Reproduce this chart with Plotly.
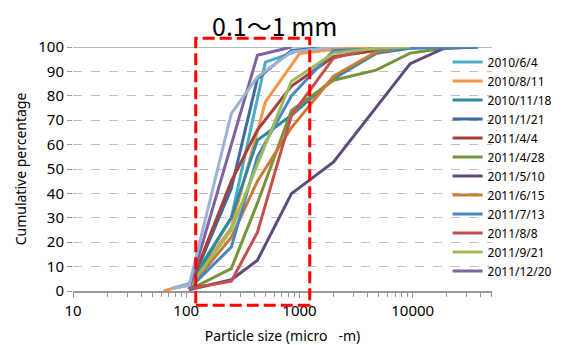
import plotly.graph_objects as go

# ---- data ----
names = ["2010/6/4", "2010/8/11", "2010/11/18", "2011/1/21", "2011/4/4", "2011/4/28",
         "2011/5/10", "2011/6/15", "2011/7/13", "2011/8/8", "2011/9/21", "2011/12/20"]
colors = ["#4BACC6", "#F79646", "#31889F", "#3D6BA3", "#A6403C", "#77933C",
          "#5F4A7B", "#CC7A33", "#4A86C5", "#C4504E", "#9BBB59", "#8064A2"]

x_2010_6_4 = [75, 106, 250, 500, 1000, 2000]
y_2010_6_4 = [1, 3, 30, 93.8, 98.6, 100]
x_2010_8_11 = [63, 75, 106, 250, 500, 1000, 2000, 4750]
y_2010_8_11 = [0, 1, 2.5, 26, 77.5, 97.3, 99, 100]
x_2010_11_18 = [106, 250, 425, 850, 2000, 4750, 9500, 19000]
y_2010_11_18 = [2, 30, 61.8, 72, 87, 97.4, 99.5, 100]
x_2011_1_21 = [106, 250, 425, 850, 2000]
y_2011_1_21 = [1, 42, 87, 98.6, 100]
x_2011_4_4 = [106, 250, 425, 850, 2000, 4750, 9500]
y_2011_4_4 = [1, 45, 66, 84, 96, 98.6, 100]
x_2011_4_28 = [106, 250, 425, 850, 2000, 4750, 9500, 19000, 37500]
y_2011_4_28 = [0.5, 9.2, 36, 74, 86.4, 90.5, 97.5, 99.5, 100]
x_2011_5_10 = [106, 250, 425, 850, 2000, 4750, 9500, 19000, 37500]
y_2011_5_10 = [0.5, 4.6, 12.6, 39.9, 52.9, 75, 93.2, 99.5, 100]
x_2011_6_15 = [106, 250, 425, 850, 2000, 4750, 9500]
y_2011_6_15 = [1, 22, 45, 67, 88, 98, 100]
x_2011_7_13 = [106, 250, 425, 850, 2000, 4750, 9500, 19000, 37500]
y_2011_7_13 = [1, 18, 55, 80, 98.6, 99.3, 99.6, 99.8, 100]
x_2011_8_8 = [106, 250, 425, 850, 2000, 4750]
y_2011_8_8 = [1, 4, 24, 72, 95.5, 100]
x_2011_9_21 = [106, 250, 425, 850, 2000, 4750, 9500]
y_2011_9_21 = [1.5, 25, 52, 86, 97.5, 99.5, 100]
x_2011_12_20 = [106, 250, 425, 850]
y_2011_12_20 = [0.8, 60, 96.6, 100]
# an extra series drawn in the chart but not listed in the legend
x_extra = [75, 106, 250, 425, 850, 2000]
y_extra = [1, 2.3, 72.7, 87.7, 98, 100]
extra_color = "#9DB3D6"

xs = [x_2010_6_4, x_2010_8_11, x_2010_11_18, x_2011_1_21, x_2011_4_4, x_2011_4_28,
      x_2011_5_10, x_2011_6_15, x_2011_7_13, x_2011_8_8, x_2011_9_21, x_2011_12_20]
ys = [y_2010_6_4, y_2010_8_11, y_2010_11_18, y_2011_1_21, y_2011_4_4, y_2011_4_28,
      y_2011_5_10, y_2011_6_15, y_2011_7_13, y_2011_8_8, y_2011_9_21, y_2011_12_20]

x_tickvals = [10, 100, 1000, 10000]
x_ticktext = ["10", "100", "1000", "10000"]
y_tickvals = list(range(0, 101, 10))

title_text = "0.1～1 mm"
x_title = "Particle size (micro\u00a0\u00a0\u00a0-m)"
y_title = "Cumulative percentage"

FONT = "Noto Sans"

fig = go.Figure()
for n, c, x, y in zip(names, colors, xs, ys):
    fig.add_trace(go.Scatter(x=x, y=y, mode="lines", name=n,
                             line=dict(color=c, width=3)))
fig.add_trace(go.Scatter(x=x_extra, y=y_extra, mode="lines", name="",
                         line=dict(color=extra_color, width=3), showlegend=False))

fig.update_layout(
    width=564, height=345,
    margin=dict(l=73, r=72, t=47, b=54, autoexpand=False),
    paper_bgcolor="white", plot_bgcolor="white",
    font=dict(family=FONT, color="#000000", size=12),
    showlegend=True,
    legend=dict(x=0.894, y=0.998, xanchor="left", yanchor="top",
                bgcolor="rgba(0,0,0,0)", borderwidth=0,
                font=dict(family=FONT, size=12, color="#000"),
                itemwidth=30, tracegroupgap=0),
    xaxis=dict(type="log", range=[1, 4.7], tickvals=x_tickvals, ticktext=x_ticktext,
               showgrid=False, zeroline=False, showline=True, linecolor="#989898",
               linewidth=1.5, ticks="outside", ticklen=5, tickcolor="#989898",
               tickfont=dict(family=FONT, size=15),
               minor=dict(ticks="outside", ticklen=4, tickcolor="#989898", dtick="D1",
                          showgrid=False),
               title=dict(text=x_title, font=dict(family=FONT, size=14), standoff=12)),
    yaxis=dict(range=[0, 100], tickvals=y_tickvals, showgrid=True,
               gridcolor="#C0C0C0", griddash="dash", gridwidth=1.2,
               zeroline=False, showline=False, ticks="outside", ticklen=5,
               tickcolor="#989898", tickfont=dict(family=FONT, size=15),
               title=dict(text=y_title, font=dict(family=FONT, size=14), standoff=8)),
)

# white panel behind the legend hiding the gridlines there
fig.add_shape(type="rect", xref="paper", yref="paper", x0=0.877, x1=1.0,
              y0=0.06, y1=0.978, line=dict(width=0), fillcolor="white", layer="between")

# solid top line at 100
fig.add_shape(type="line", xref="paper", yref="y", x0=0, x1=1, y0=100, y1=100,
              line=dict(color="#A0A0A0", width=1.5), layer="between")

# red dashed box marking 0.1-1 mm
fig.add_shape(type="rect", xref="paper", yref="paper", x0=0.293, x1=0.565,
              y0=-0.0586, y1=1.0357, line=dict(color="#FF0000", width=3, dash="12px,5px"),
              fillcolor="rgba(0,0,0,0)", layer="above")

fig.add_annotation(text=title_text, xref="paper", yref="paper", x=0.482, y=1.089,
                   xanchor="center", yanchor="middle", showarrow=False,
                   font=dict(family="Noto Sans CJK JP", size=25, color="#000"))

fig.write_html("out.html")
